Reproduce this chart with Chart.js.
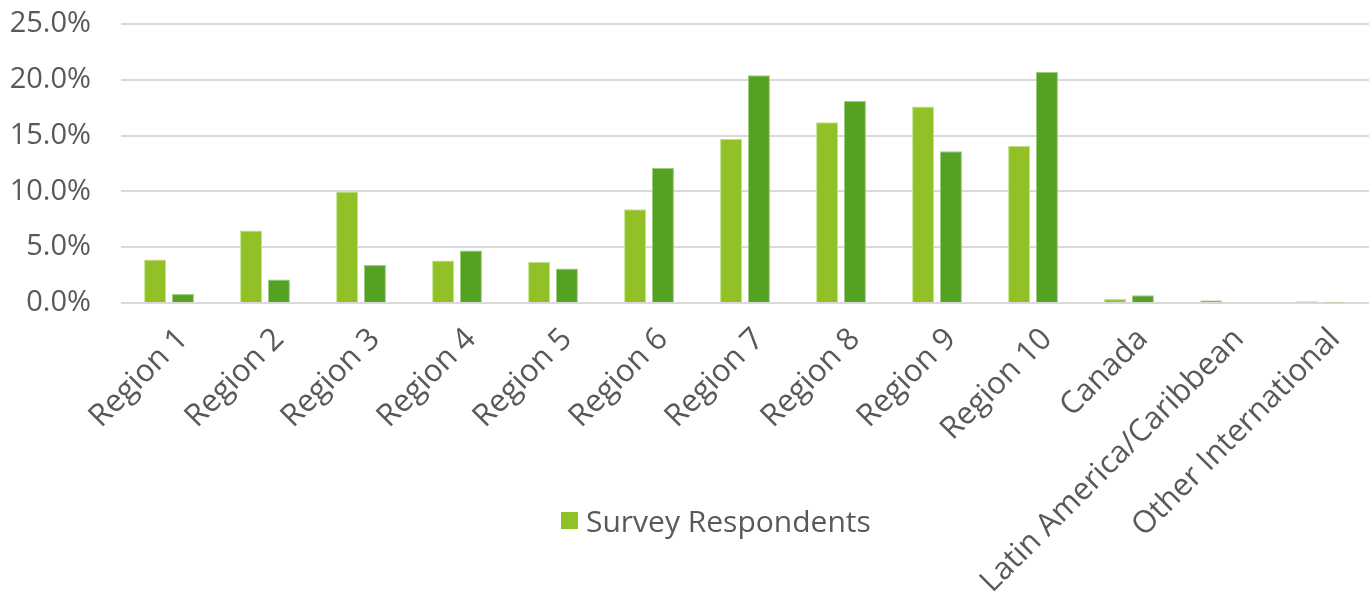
<!DOCTYPE html>
<html>
<head>
<meta charset="utf-8">
<script src="https://cdn.jsdelivr.net/npm/chart.js@4"></script>
<style>
  html, body { margin: 0; padding: 0; background: #ffffff; }
  #wrap { position: relative; width: 1369px; height: 600px; }
  #legend {
    position: absolute; left: 561px; top: 500px;
    font-family: "Open Sans", sans-serif; font-size: 30px; color: #595959;
    display: flex; align-items: center; white-space: nowrap;
  }
  #legend span.box { display: inline-block; width: 17px; height: 17px; background: #92c127; margin-right: 8px; }
</style>
</head>
<body>
<div id="wrap">
  <canvas id="myChart" width="1369" height="600"></canvas>
  <div id="legend"><span class="box"></span>Survey Respondents</div>
</div>
<script>
let regiones = ["Region 1", "Region 2", "Region 3", "Region 4", "Region 5", "Region 6", "Region 7",
    "Region 8", "Region 9", "Region 10", "Canada", "Latin America/Caribbean", "Other International"];

// porcentajes de cada serie
let encuestados = [3.9, 6.5, 10.0, 3.8, 3.7, 8.4, 14.7, 16.2, 17.6, 14.1, 0.35, 0.25, 0.15];
let segundaSerie = [0.8, 2.1, 3.4, 4.7, 3.1, 12.1, 20.4, 18.1, 13.6, 20.7, 0.7, 0, 0.05];

let ticksY = [0, 5, 10, 15, 20, 25];

let grafica = document.getElementById("myChart");
let fuente = "'Open Sans', sans-serif";
let gris = "#595959";

new Chart(grafica, {
    type: "bar",
    data: {
        labels: regiones,
        datasets: [
            {
                label: "Survey Respondents",
                data: encuestados,
                backgroundColor: "#92c127",
                borderColor: "#c4e08a",
                borderWidth: 1,
                categoryPercentage: 0.58,
                barPercentage: 0.79
            },
            {
                label: "",
                data: segundaSerie,
                backgroundColor: "#55a121",
                borderColor: "#9ccc80",
                borderWidth: 1,
                categoryPercentage: 0.58,
                barPercentage: 0.79
            }
        ]
    },
    options: {
        responsive: false,
        maintainAspectRatio: false,
        animation: false,
        plugins: {
            legend: { display: false },
            tooltip: { enabled: false }
        },
        scales: {
            x: {
                grid: { display: false, drawTicks: false },
                border: { display: false },
                ticks: {
                    color: gris,
                    font: { family: fuente, size: 31 },
                    minRotation: 45,
                    maxRotation: 45,
                    padding: 18,
                    labelOffset: 14,
                    autoSkip: false
                },
                afterFit: function (escala) { escala.height = 297; }
            },
            y: {
                min: 0,
                max: 25,
                afterBuildTicks: function (escala) {
                    escala.ticks = ticksY.map(v => ({ value: v }));
                },
                grid: { color: "#d9d9d9", lineWidth: 2, drawTicks: false },
                border: { display: false },
                ticks: {
                    color: gris,
                    font: { family: fuente, size: 29 },
                    padding: 30,
                    callback: v => v.toFixed(1) + "%"
                },
                afterFit: function (escala) {
                    escala.width = 121;
                    // el padding de las etiquetas no debe empujar el área hacia abajo
                    escala.paddingTop = 24;
                    escala.paddingBottom = 0;
                }
            }
        }
    }
});
</script>
</body>
</html>
